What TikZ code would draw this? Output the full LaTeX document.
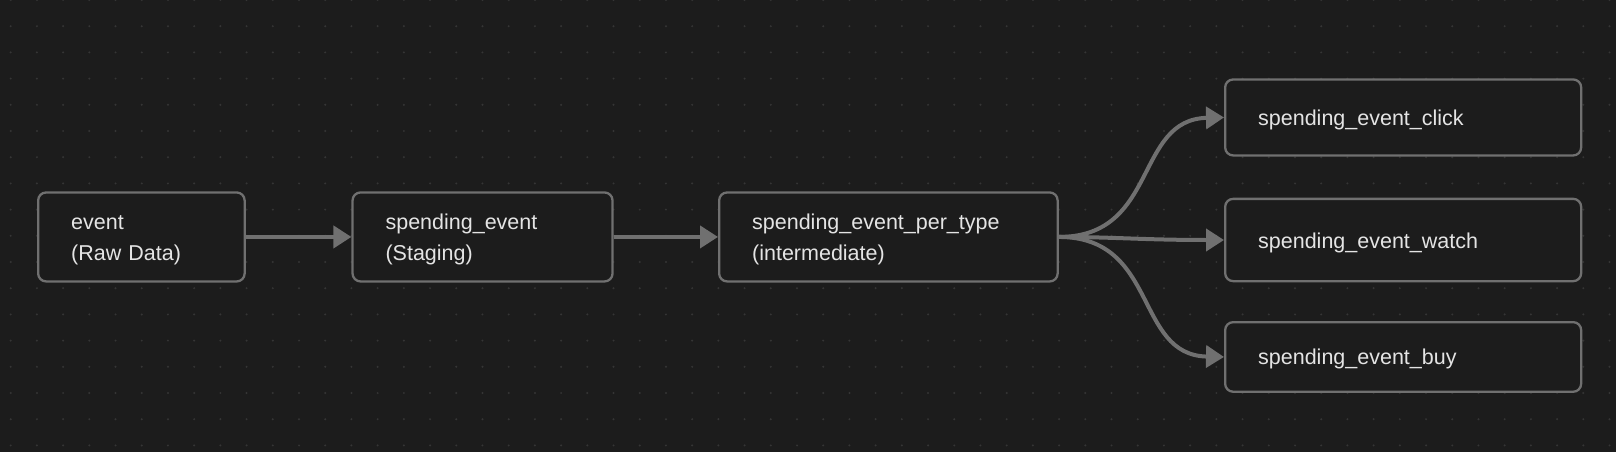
\documentclass[tikz,border=0pt]{standalone}
\usepackage{fontspec}
\setmainfont{Liberation Sans}
\usetikzlibrary{arrows.meta}
\definecolor{bgc}{HTML}{1C1C1C}
\definecolor{dotc}{HTML}{353535}
\definecolor{bordc}{HTML}{707070}
\definecolor{edgec}{HTML}{707070}
\definecolor{txtc}{HTML}{E4E4E4}
\begin{document}
\begin{tikzpicture}[x=1pt,y=-1pt,
  nbox/.style={draw=bordc, line width=2.3pt, fill=bgc, rounded corners=8pt,
    anchor=north west, inner xsep=33pt, inner ysep=0pt, align=left,
    text=txtc, font=\fontsize{21.5}{31}\selectfont,
    execute at begin node={\rule{0pt}{20.5pt}}},
  edge/.style={draw=edgec, line width=4pt, -{Triangle[length=18pt,width=22pt]}}]
\fill[bgc] (0,0) rectangle (1616,452);
\useasboundingbox (0,0) rectangle (1616,452);
\foreach \i in {0,...,61}{
  \foreach \j in {0,...,17}{
    \fill[dotc] (10.7+\i*26.21, \j*26.2) circle (1.1pt);
  }
}
\node[nbox, minimum width=206.5pt, minimum height=89pt, text width=140.5pt] (ev) at (37,191.3) {event\\(Raw Data)};
\node[nbox, minimum width=260pt, minimum height=89pt, text width=194pt] (se) at (351.4,191.3) {spending\_event\\(Staging)};
\node[nbox, minimum width=338.5pt, minimum height=89pt, text width=272.5pt] (pt) at (718,191.3) {spending\_event\_per\_type\\(intermediate)};
\node[nbox, minimum width=356pt, minimum height=76pt, text width=290pt] (click) at (1224,78.3) {spending\_event\_click};
\node[nbox, minimum width=356pt, minimum height=82.3pt, text width=290pt] (watch) at (1224,197.7) {spending\_event\_watch};
\node[nbox, minimum width=356pt, minimum height=69.6pt, text width=290pt] (buy) at (1224,321) {spending\_event\_buy};
\draw[edge] (ev.east) -- (se.west);
\draw[edge] (se.east) -- (pt.west);
\draw[edge] (pt.east) .. controls +(100,0) and +(-90,2) .. (click.west);
\draw[edge] (pt.east) .. controls +(55,0) and +(-80,0) .. (watch.west);
\draw[edge] (pt.east) .. controls +(100,0) and +(-90,-2) .. (buy.west);
\end{tikzpicture}
\end{document}
